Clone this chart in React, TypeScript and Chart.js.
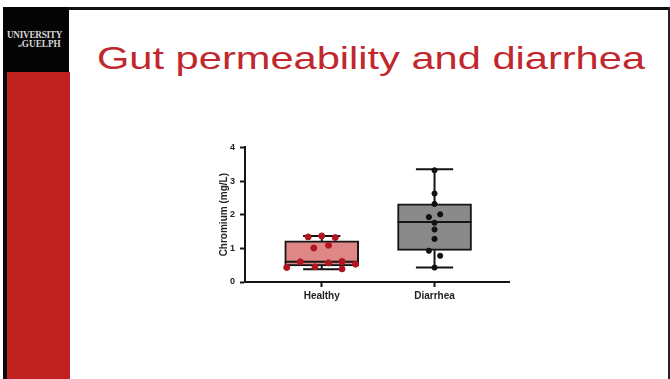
import React, { useEffect, useRef } from 'react';
import { Chart, registerables } from 'chart.js';
Chart.register(...registerables);

// ---- data ----
const categories = ['Healthy', 'Diarrhea'];
const yTickValues = [0, 1, 2, 3, 4];
const boxMin = [0.38, 0.43];
const boxQ1 = [0.48, 0.94];
const boxMedian = [0.6, 1.78];
const boxQ3 = [1.22, 2.32];
const boxMax = [1.37, 3.35];
const healthyValues = [0.43, 0.6, 1.34, 1.01, 0.45, 1.37, 1.09, 0.57, 1.32, 0.61, 0.39, 0.53];
const healthyJitter = [-0.31, -0.19, -0.12, -0.07, -0.06, 0, 0.06, 0.06, 0.12, 0.18, 0.18, 0.3];
const diarrheaValues = [3.32, 2.63, 2.32, 1.93, 2.01, 1.76, 1.56, 1.28, 0.93, 0.78, 0.43];
const diarrheaJitter = [0, 0, 0, -0.05, 0.05, 0, 0, 0, -0.05, 0.05, 0];

const boxFills = ['#df8686', '#8a8a8a'];
const pointColors = ['#b3141f', '#111111'];
const CAP_HALF = 0.165;

const whiskerPlugin = {
  id: 'whiskers',
  beforeDatasetsDraw(chart: any) {
    const { ctx, scales } = chart;
    const x = scales.x, y = scales.y;
    ctx.save();
    ctx.strokeStyle = '#151515';
    ctx.lineWidth = 2;
    categories.forEach((_, i) => {
      const cx = x.getPixelForValue(i);
      const l = x.getPixelForValue(i - CAP_HALF);
      const r = x.getPixelForValue(i + CAP_HALF);
      const yMin = y.getPixelForValue(boxMin[i]);
      const yQ1 = y.getPixelForValue(boxQ1[i]);
      const yQ3 = y.getPixelForValue(boxQ3[i]);
      const yMax = y.getPixelForValue(boxMax[i]);
      ctx.beginPath();
      ctx.moveTo(cx, yMin); ctx.lineTo(cx, yQ1);
      ctx.moveTo(cx, yQ3); ctx.lineTo(cx, yMax);
      ctx.moveTo(l, yMin); ctx.lineTo(r, yMin);
      ctx.moveTo(l, yMax); ctx.lineTo(r, yMax);
      ctx.stroke();
    });
    ctx.restore();
  },
  afterDatasetDraw(chart: any, args: any) {
    if (args.index !== 0) return;
    const { ctx, scales } = chart;
    const meta = chart.getDatasetMeta(0);
    ctx.save();
    ctx.strokeStyle = '#151515';
    ctx.lineWidth = 2;
    meta.data.forEach((bar: any, i: number) => {
      const ym = scales.y.getPixelForValue(boxMedian[i]);
      ctx.beginPath();
      ctx.moveTo(bar.x - bar.width / 2, ym);
      ctx.lineTo(bar.x + bar.width / 2, ym);
      ctx.stroke();
    });
    ctx.restore();
  },
};

function BoxChart() {
  const ref = useRef<HTMLCanvasElement>(null);
  useEffect(() => {
    if (!ref.current) return;
    const font = 'Liberation Sans, Arial, sans-serif';
    const chart = new Chart(ref.current, {
      type: 'bar',
      data: {
        datasets: [
          {
            type: 'bar',
            data: categories.map((_, i) => ({ x: i, y: [boxQ1[i], boxQ3[i]] })) as any,
            backgroundColor: boxFills,
            borderColor: '#151515',
            borderWidth: 2,
            borderSkipped: false,
            barThickness: 74,
            order: 2,
          } as any,
          {
            type: 'scatter',
            data: healthyValues.map((v, k) => ({ x: 0 + healthyJitter[k], y: v })),
            backgroundColor: pointColors[0],
            borderColor: pointColors[0],
            pointRadius: 3,
            order: 1,
          } as any,
          {
            type: 'scatter',
            data: diarrheaValues.map((v, k) => ({ x: 1 + diarrheaJitter[k], y: v })),
            backgroundColor: pointColors[1],
            borderColor: pointColors[1],
            pointRadius: 2.6,
            order: 0,
          } as any,
        ],
      },
      options: {
        animation: false,
        responsive: false,
        layout: { padding: { left: 28, right: 11, top: 4, bottom: 0 } },
        plugins: { legend: { display: false }, tooltip: { enabled: false } },
        scales: {
          x: {
            type: 'linear',
            min: -0.68,
            max: 1.66,
            offset: false,
            afterBuildTicks: (s: any) => {
              s.ticks = categories.map((_, i) => ({ value: i }));
            },
            afterFit: (s: any) => { s.height = 25; },
            ticks: {
              autoSkip: false,
              maxRotation: 0,
              padding: 3,
              color: '#222',
              font: { family: font, size: 10, weight: 'bold' },
              callback: (v: any) => categories[Math.round(Number(v))],
            },
            grid: { display: true, drawOnChartArea: false, drawTicks: true, tickLength: 5, tickColor: '#151515', tickWidth: 2, offset: false },
            border: { display: true, color: '#151515', width: 2 },
          },
          y: {
            type: 'linear',
            min: yTickValues[0],
            max: yTickValues[yTickValues.length - 1],
            afterBuildTicks: (s: any) => {
              s.ticks = yTickValues.map((v) => ({ value: v }));
            },
            afterFit: (s: any) => { s.width = 27; },
            ticks: {
              padding: 5,
              color: '#222',
              font: { family: font, size: 9, weight: 'bold' },
            },
            title: {
              display: true,
              text: 'Chromium (mg/L)',
              color: '#222',
              padding: { top: 0, bottom: 0 },
              font: { family: font, size: 10, weight: 'bold' },
            },
            grid: { display: true, drawOnChartArea: false, drawTicks: true, tickLength: 5, tickColor: '#151515', tickWidth: 2 },
            border: { display: true, color: '#151515', width: 2 },
          },
        },
      } as any,
      plugins: [whiskerPlugin],
    });
    return () => chart.destroy();
  }, []);
  return (
    <canvas
      ref={ref}
      width={330}
      height={170}
      style={{ position: 'absolute', left: 190, top: 137, width: 330, height: 170 }}
    />
  );
}

export default function App() {
  return (
    <div style={{ position: 'absolute', left: 0, top: 0, width: 670, height: 379, background: '#ffffff', overflow: 'hidden' }}>
      {/* top rule */}
      <div style={{ position: 'absolute', left: 3, top: 7, width: 667, height: 3, background: '#111' }} />
      {/* right rule */}
      <div style={{ position: 'absolute', left: 668, top: 7, width: 2, height: 372, background: '#222' }} />
      {/* left thin black strip */}
      <div style={{ position: 'absolute', left: 3, top: 7, width: 4, height: 372, background: '#0a0a0a' }} />
      {/* logo block */}
      <div style={{ position: 'absolute', left: 3, top: 7, width: 66, height: 65, background: '#050505' }} />
      {/* red band */}
      <div style={{ position: 'absolute', left: 7, top: 72, width: 63, height: 307, background: '#c02222' }} />
      {/* logo text */}
      <div style={{ position: 'absolute', left: 7, top: 30, width: 70, fontFamily: 'Liberation Serif, serif', color: '#d8d8d8', fontWeight: 'bold', lineHeight: 1 }}>
        <div style={{ fontSize: 10, letterSpacing: -0.3, transform: 'scaleX(0.92)', transformOrigin: 'left' }}>UNIVERSITY</div>
        <div style={{ fontSize: 10, marginLeft: 11, marginTop: -1, transform: 'scaleX(0.92)', transformOrigin: 'left' }}>
          <span style={{ fontSize: 5 }}>of</span>GUELPH
        </div>
      </div>
      {/* title */}
      <div
        style={{
          position: 'absolute',
          left: 97,
          top: 42,
          fontFamily: 'Liberation Sans, Arial, sans-serif',
          fontSize: 32,
          lineHeight: '32px',
          color: '#c1282d',
          whiteSpace: 'nowrap',
          transform: 'scaleX(1.3)',
          transformOrigin: 'left top',
        }}
      >
        Gut permeability and diarrhea
      </div>
      <BoxChart />
    </div>
  );
}
